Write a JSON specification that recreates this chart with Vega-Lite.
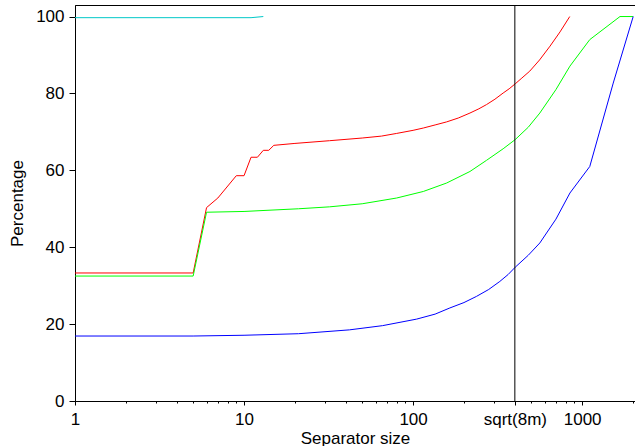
{
  "$schema": "https://vega.github.io/schema/vega-lite/v6.json",
  "width": 560,
  "height": 396,
  "autosize": {"type": "none"},
  "padding": {"left": 75, "top": 5, "right": 0, "bottom": 45},
  "config": {
    "view": {"stroke": "black", "strokeWidth": 1},
    "font": "Liberation Sans",
    "axis": {
      "labelFont": "Liberation Sans",
      "titleFont": "Liberation Sans",
      "labelFontSize": 17,
      "titleFontSize": 17,
      "titleFontWeight": "normal",
      "labelColor": "black",
      "titleColor": "black",
      "domainColor": "black",
      "tickColor": "black",
      "grid": false
    }
  },
  "layer": [
    {
      "data": {
        "values": [
          {"series": "cyan", "size": 1, "pct": 99.7},
          {"series": "cyan", "size": 11, "pct": 99.7},
          {"series": "cyan", "size": 13, "pct": 100},
          {"series": "red", "size": 1, "pct": 33.3},
          {"series": "red", "size": 5, "pct": 33.3},
          {"series": "red", "size": 6, "pct": 50.3},
          {"series": "red", "size": 7, "pct": 52.8},
          {"series": "red", "size": 9, "pct": 58.6},
          {"series": "red", "size": 10, "pct": 58.6},
          {"series": "red", "size": 11, "pct": 63.4},
          {"series": "red", "size": 12, "pct": 63.4},
          {"series": "red", "size": 13, "pct": 65.2},
          {"series": "red", "size": 14, "pct": 65.2},
          {"series": "red", "size": 15, "pct": 66.5},
          {"series": "red", "size": 20, "pct": 67.0},
          {"series": "red", "size": 32, "pct": 67.7},
          {"series": "red", "size": 50, "pct": 68.4},
          {"series": "red", "size": 65, "pct": 68.9},
          {"series": "red", "size": 80, "pct": 69.6},
          {"series": "red", "size": 100, "pct": 70.4},
          {"series": "red", "size": 115, "pct": 71.0},
          {"series": "red", "size": 135, "pct": 71.8},
          {"series": "red", "size": 158, "pct": 72.6},
          {"series": "red", "size": 185, "pct": 73.6},
          {"series": "red", "size": 217, "pct": 74.9},
          {"series": "red", "size": 245, "pct": 76.0},
          {"series": "red", "size": 272, "pct": 77.1},
          {"series": "red", "size": 305, "pct": 78.5},
          {"series": "red", "size": 341, "pct": 80.1},
          {"series": "red", "size": 370, "pct": 81.2},
          {"series": "red", "size": 402, "pct": 82.5},
          {"series": "red", "size": 440, "pct": 84.0},
          {"series": "red", "size": 490, "pct": 85.8},
          {"series": "red", "size": 560, "pct": 88.7},
          {"series": "red", "size": 646, "pct": 92.3},
          {"series": "red", "size": 740, "pct": 96.0},
          {"series": "red", "size": 845, "pct": 100},
          {"series": "green", "size": 1, "pct": 32.5},
          {"series": "green", "size": 5, "pct": 32.5},
          {"series": "green", "size": 6, "pct": 49.1},
          {"series": "green", "size": 10, "pct": 49.3},
          {"series": "green", "size": 21, "pct": 50.0},
          {"series": "green", "size": 32, "pct": 50.5},
          {"series": "green", "size": 50, "pct": 51.3},
          {"series": "green", "size": 80, "pct": 52.8},
          {"series": "green", "size": 115, "pct": 54.5},
          {"series": "green", "size": 158, "pct": 56.7},
          {"series": "green", "size": 217, "pct": 59.7},
          {"series": "green", "size": 272, "pct": 62.6},
          {"series": "green", "size": 341, "pct": 65.6},
          {"series": "green", "size": 402, "pct": 68.0},
          {"series": "green", "size": 480, "pct": 71.2},
          {"series": "green", "size": 562, "pct": 74.9},
          {"series": "green", "size": 700, "pct": 81.0},
          {"series": "green", "size": 847, "pct": 87.1},
          {"series": "green", "size": 1110, "pct": 94.0},
          {"series": "green", "size": 1675, "pct": 100},
          {"series": "green", "size": 2005, "pct": 100},
          {"series": "blue", "size": 1, "pct": 16.9},
          {"series": "blue", "size": 5, "pct": 16.9},
          {"series": "blue", "size": 10, "pct": 17.1},
          {"series": "blue", "size": 21, "pct": 17.5},
          {"series": "blue", "size": 42, "pct": 18.5},
          {"series": "blue", "size": 66, "pct": 19.6},
          {"series": "blue", "size": 105, "pct": 21.3},
          {"series": "blue", "size": 135, "pct": 22.6},
          {"series": "blue", "size": 165, "pct": 24.2},
          {"series": "blue", "size": 200, "pct": 25.6},
          {"series": "blue", "size": 237, "pct": 27.2},
          {"series": "blue", "size": 280, "pct": 29.0},
          {"series": "blue", "size": 326, "pct": 31.1},
          {"series": "blue", "size": 365, "pct": 32.9},
          {"series": "blue", "size": 402, "pct": 34.8},
          {"series": "blue", "size": 480, "pct": 37.9},
          {"series": "blue", "size": 562, "pct": 41.1},
          {"series": "blue", "size": 700, "pct": 47.3},
          {"series": "blue", "size": 847, "pct": 54.1},
          {"series": "blue", "size": 1110, "pct": 61.0},
          {"series": "blue", "size": 1528, "pct": 82.7},
          {"series": "blue", "size": 2005, "pct": 100}
        ]
      },
      "mark": {"type": "line", "strokeWidth": 1, "clip": true},
      "encoding": {
        "x": {
          "field": "size",
          "type": "quantitative",
          "scale": {"type": "log", "domain": [1, 2055], "nice": false},
          "axis": {
            "title": "Separator size",
            "values": [1, 2, 3, 4, 5, 6, 7, 8, 9, 10, 20, 30, 40, 50, 60, 70, 80, 90, 100, 200, 300, 400, 500, 600, 700, 800, 900, 1000, 2000],
            "format": "d",
            "labelExpr": "datum.value == 400 ? 'sqrt(8m)' : (datum.value == 1 || datum.value == 10 || datum.value == 100 || datum.value == 1000) ? datum.label : ''",
            "labelOverlap": false,
            "labelFlush": false,
            "labelBound": false,
            "tickSize": {"condition": {"test": "datum.value == 1 || datum.value == 10 || datum.value == 100 || datum.value == 1000 || datum.value == 400", "value": 4}, "value": 2},
            "labelPadding": 6,
            "titlePadding": 3
          }
        },
        "y": {
          "field": "pct",
          "type": "quantitative",
          "scale": {"domain": [0, 103], "nice": false, "zero": true},
          "axis": {
            "title": "Percentage",
            "values": [0, 20, 40, 60, 80, 100],
            "tickSize": 6,
            "labelPadding": 5,
            "titlePadding": 9
          }
        },
        "color": {
          "field": "series",
          "type": "nominal",
          "scale": {"domain": ["cyan", "red", "green", "blue"], "range": ["#00c8c8", "#ff0000", "#00ff00", "#0000ff"]},
          "legend": null
        }
      }
    },
    {
      "data": {"values": [{"size": 400}]},
      "mark": {"type": "rule", "color": "black", "strokeWidth": 1},
      "encoding": {"x": {"field": "size", "type": "quantitative"}}
    }
  ]
}
